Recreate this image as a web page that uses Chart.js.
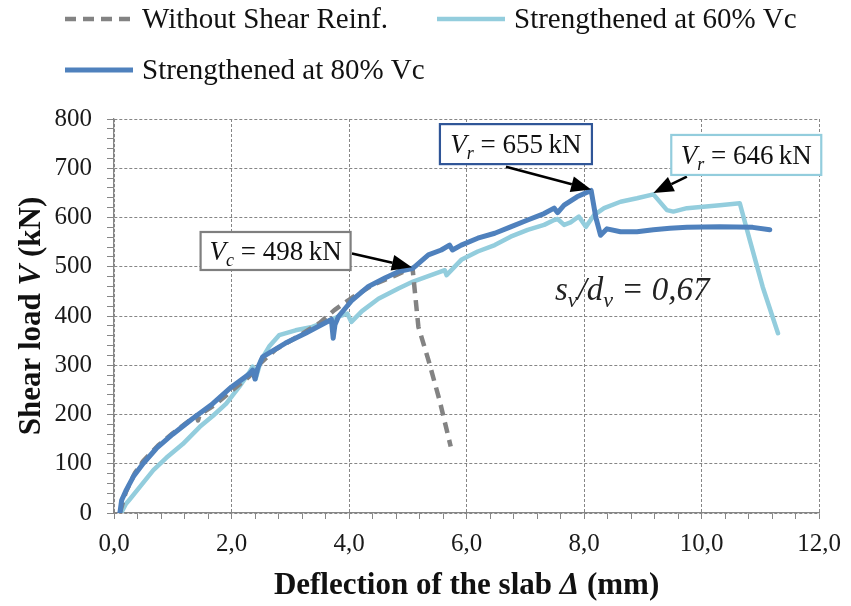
<!DOCTYPE html>
<html><head><meta charset="utf-8">
<script src="https://cdn.jsdelivr.net/npm/chart.js@4.4.1/dist/chart.umd.min.js"></script>
<style>html,body{margin:0;padding:0;background:#fff}canvas{display:block}</style>
</head><body>
<canvas id="c" width="851" height="606"></canvas>
<script>
// ---------- data ----------
const seriesLabels = ['Without Shear Reinf.', 'Strengthened at 60% Vc', 'Strengthened at 80% Vc'];
const xTitle = ['Deflection of the slab ', 'Δ', ' (mm)'];
const yTitle = ['Shear load ', 'V', ' (kN)'];

const noReinfX = [0.10,0.20,0.35,0.50,0.75,1.00,1.20,1.40,1.43,1.46,1.70,2.00,2.30,2.50,2.75,3.15,3.50,3.75,4.05,4.40,4.78,5.08,5.18,5.35,5.54,5.73];
const noReinfY = [0,42,80,106,137,162,180,198,188,200,218,248,277,305,332,360,386,412,437,463,482,498,378,311,229,135];

const str60X = [0.12,0.20,0.27,0.44,0.67,0.89,1.17,1.46,1.68,1.91,2.13,2.30,2.36,2.41,2.50,2.64,2.81,3.09,3.37,3.65,3.82,3.97,4.04,4.22,4.50,4.84,5.09,5.63,5.66,5.91,6.19,6.48,6.75,7.04,7.32,7.49,7.55,7.66,7.77,7.91,8.03,8.17,8.34,8.62,8.90,9.18,9.41,9.52,9.75,10.31,10.65,10.82,11.04,11.30];
const str60Y = [0,18,28,53,87,112,140,175,197,222,256,285,297,272,310,338,361,371,378,390,399,405,388,410,435,456,470,493,483,514,531,544,561,575,585,595,597,585,590,602,581,605,619,632,639,647,615,612,619,625,629,554,459,365];

const str80X = [0.10,0.13,0.21,0.33,0.50,0.72,1.00,1.34,1.68,2.00,2.30,2.36,2.40,2.45,2.53,2.92,3.26,3.70,3.73,3.76,3.82,4.05,4.33,4.61,4.84,5.09,5.35,5.57,5.71,5.76,5.91,6.19,6.48,6.75,7.04,7.32,7.49,7.55,7.66,7.88,8.12,8.20,8.28,8.39,8.62,8.90,9.18,9.46,9.75,10.31,10.87,11.16];
const str80Y = [0,26,47,74,101,131,160,192,222,256,282,290,272,296,317,345,365,393,355,382,399,432,460,477,490,497,524,534,544,534,544,558,568,581,595,608,619,610,625,642,655,600,564,577,571,571,575,578,580,581,580,575];

const noteValues = ['498', '655', '646'];
const noteSubs = ['c', 'r', 'r'];
const ratioText = ['s', 'v', '/', 'd', 'v', ' = 0,67'];

// ---------- styling / layout ----------
const SERIF = '"Liberation Serif","Times New Roman",serif';
const colors = ['#838383', '#93cddd', '#4f81bd'];
const AXIS = '#868686';

const notes = [
  {i:0, tip:[5.07,499], from:[4.05,527], box:[2.75,532], w:150, h:38, color:'#7f7f7f'},
  {i:1, tip:[8.12,657], from:[6.67,703], box:[6.84,749], w:152, h:40, color:'#2f5597'},
  {i:2, tip:[9.18,650], from:[9.75,683], box:[10.76,727], w:150, h:40, color:'#93cddd'}
];

const toPts = (xs, ys) => xs.map((x, i) => ({x, y: ys[i]}));

function drawParts(ctx, parts, x, y) {
  let cx = x;
  parts.forEach(p => {
    ctx.font = p.font;
    ctx.fillText(p.t, cx, y + (p.dy || 0));
    cx += ctx.measureText(p.t).width;
  });
  return cx - x;
}
function partsWidth(ctx, parts) {
  let w = 0;
  parts.forEach(p => { ctx.font = p.font; w += ctx.measureText(p.t).width; });
  return w;
}
function arrow(ctx, x1, y1, x2, y2) {
  const ang = Math.atan2(y2 - y1, x2 - x1);
  const L = 20, W = 8;
  const bx = x2 - L * Math.cos(ang), by = y2 - L * Math.sin(ang);
  ctx.save();
  ctx.strokeStyle = '#000'; ctx.fillStyle = '#000'; ctx.lineWidth = 2.6;
  ctx.beginPath(); ctx.moveTo(x1, y1); ctx.lineTo(bx, by); ctx.stroke();
  ctx.beginPath();
  ctx.moveTo(x2, y2);
  ctx.lineTo(bx + W * Math.sin(ang), by - W * Math.cos(ang));
  ctx.lineTo(bx - W * Math.sin(ang), by + W * Math.cos(ang));
  ctx.closePath(); ctx.fill();
  ctx.restore();
}

const decor = {
  id: 'decor',
  afterDraw(chart) {
    const ctx = chart.ctx, xs = chart.scales.x, ys = chart.scales.y, ca = chart.chartArea;
    ctx.save();
    ctx.textBaseline = 'alphabetic';
    ctx.fillStyle = '#111';

    // axis titles
    const xt = [
      {t: xTitle[0], font: 'bold 31px ' + SERIF},
      {t: xTitle[1], font: 'italic bold 31px ' + SERIF},
      {t: xTitle[2], font: 'bold 31px ' + SERIF}];
    let w = partsWidth(ctx, xt);
    drawParts(ctx, xt, (ca.left + ca.right) / 2 - w / 2, 594);

    const yt = [
      {t: yTitle[0], font: 'bold 31px ' + SERIF},
      {t: yTitle[1], font: 'italic bold 31px ' + SERIF},
      {t: yTitle[2], font: 'bold 31px ' + SERIF}];
    w = partsWidth(ctx, yt);
    ctx.save();
    ctx.translate(40, (ca.top + ca.bottom) / 2);
    ctx.rotate(-Math.PI / 2);
    drawParts(ctx, yt, -w / 2, 0);
    ctx.restore();

    // legend
    const leg = [{ds:0, x:65, y:19}, {ds:1, x:437, y:19}, {ds:2, x:65, y:70}];
    leg.forEach(l => {
      const ds = chart.data.datasets[l.ds];
      ctx.save();
      ctx.strokeStyle = ds.borderColor; ctx.lineWidth = ds.borderWidth;
      ctx.setLineDash(ds.borderDash || []);
      ctx.lineCap = 'butt';
      ctx.beginPath(); ctx.moveTo(l.x, l.y); ctx.lineTo(l.x + 68, l.y); ctx.stroke();
      ctx.restore();
      ctx.font = '29px ' + SERIF;
      ctx.textBaseline = 'middle';
      ctx.fillStyle = '#111';
      ctx.fillText(ds.label, l.x + 77, l.y + 1);
    });
    ctx.textBaseline = 'alphabetic';

    // annotations
    notes.forEach(n => {
      const bx = xs.getPixelForValue(n.box[0]), by = ys.getPixelForValue(n.box[1]);
      arrow(ctx, xs.getPixelForValue(n.from[0]), ys.getPixelForValue(n.from[1]),
                 xs.getPixelForValue(n.tip[0]), ys.getPixelForValue(n.tip[1]));
      ctx.fillStyle = '#fff';
      ctx.fillRect(bx - n.w / 2, by - n.h / 2, n.w, n.h);
      ctx.strokeStyle = n.color; ctx.lineWidth = 2.2;
      ctx.strokeRect(bx - n.w / 2, by - n.h / 2, n.w, n.h);
      const parts = [
        {t: 'V', font: 'italic 27px ' + SERIF},
        {t: noteSubs[n.i], font: 'italic 18px ' + SERIF, dy: 6},
        {t: ' = ' + noteValues[n.i] + '\u2009kN', font: '27px ' + SERIF}];
      const pw = partsWidth(ctx, parts);
      ctx.fillStyle = '#111';
      drawParts(ctx, parts, bx - pw / 2, by + 9);
    });

    // ratio text
    const rp = [
      {t: ratioText[0], font: 'italic 33px ' + SERIF},
      {t: ratioText[1], font: 'italic 22px ' + SERIF, dy: 7},
      {t: ratioText[2], font: 'italic 33px ' + SERIF},
      {t: ratioText[3], font: 'italic 33px ' + SERIF},
      {t: ratioText[4], font: 'italic 22px ' + SERIF, dy: 7},
      {t: ratioText[5], font: 'italic 33px ' + SERIF}];
    ctx.fillStyle = '#222';
    drawParts(ctx, rp, 555, 300);
    ctx.restore();
  }
};

const isMajorX = v => Math.abs(v / 2 - Math.round(v / 2)) < 1e-6;
const isMajorY = v => Math.abs(v / 100 - Math.round(v / 100)) < 1e-6;

new Chart(document.getElementById('c'), {
  type: 'line',
  data: {
    datasets: [
      {label: seriesLabels[0], data: toPts(noReinfX, noReinfY), borderColor: colors[0], borderWidth: 4.5,
       borderDash: [11, 7], order: 1, borderCapStyle: 'butt'},
      {label: seriesLabels[1], data: toPts(str60X, str60Y), borderColor: colors[1], borderWidth: 4.5, order: 2},
      {label: seriesLabels[2], data: toPts(str80X, str80Y), borderColor: colors[2], borderWidth: 5, order: 0}
    ]
  },
  options: {
    responsive: false,
    animation: false,
    devicePixelRatio: 1,
    events: [],
    layout: {padding: {left: 0, top: 119, right: 28, bottom: 0}},
    elements: {
      point: {radius: 0},
      line: {tension: 0, borderJoinStyle: 'round', borderCapStyle: 'round', fill: false}
    },
    plugins: {legend: {display: false}, tooltip: {enabled: false}},
    scales: {
      x: {
        type: 'linear', min: 0, max: 12,
        afterFit: s => { s.height = 93; },
        ticks: {
          stepSize: 0.4, autoSkip: false, minRotation: 0, maxRotation: 0, padding: 10,
          color: '#1a1a1a', font: {family: SERIF, size: 25},
          callback: v => isMajorX(v) ? v.toFixed(1).replace('.', ',') : ''
        },
        grid: {
          color: c => (c.tick && isMajorX(c.tick.value)) ? AXIS : 'rgba(0,0,0,0)',
          tickColor: AXIS, tickLength: 6, lineWidth: 1
        },
        border: {color: AXIS, width: 1.3, dash: [3, 2]}
      },
      y: {
        min: 0, max: 800,
        afterFit: s => { s.width = 114; },
        ticks: {
          stepSize: 20, autoSkip: false, padding: 15,
          color: '#1a1a1a', font: {family: SERIF, size: 25},
          callback: v => isMajorY(v) ? String(v) : ''
        },
        grid: {
          color: c => (c.tick && isMajorY(c.tick.value)) ? AXIS : 'rgba(0,0,0,0)',
          tickColor: AXIS, tickLength: 7, lineWidth: 1
        },
        border: {color: AXIS, width: 1.3, dash: [3, 2]}
      }
    }
  },
  plugins: [decor]
});
</script>
</body></html>
